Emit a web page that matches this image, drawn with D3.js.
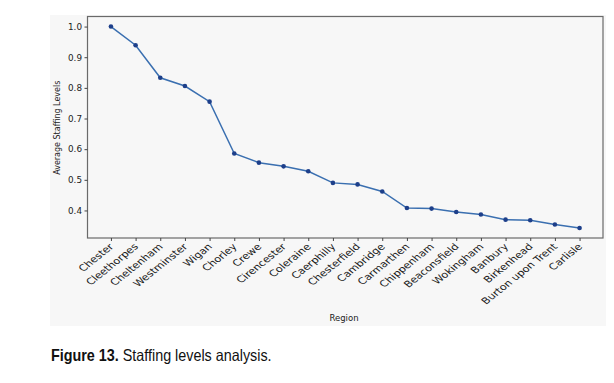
<!DOCTYPE html>
<html><head><meta charset="utf-8">
<script src="https://cdn.jsdelivr.net/npm/d3@7"></script>
<style>
body{margin:0;background:#fff;}
svg{display:block;}
</style></head>
<body>
<svg id="c" width="614" height="383"></svg>
<script>
const regions = ["Chester","Cleethorpes","Cheltenham","Westminster","Wigan","Chorley","Crewe","Cirencester","Coleraine","Caerphilly","Chesterfield","Cambridge","Carmarthen","Chippenham","Beaconsfield","Wokingham","Banbury","Birkenhead","Burton upon Trent","Carlisle"];
const staffing = [1.0,0.939,0.833,0.806,0.755,0.586,0.556,0.544,0.528,0.490,0.485,0.462,0.408,0.406,0.395,0.387,0.370,0.368,0.354,0.343];
const yTicks = [0.4,0.5,0.6,0.7,0.8,0.9,1.0];
const yLabel = "Average Staffing Levels";
const xLabel = "Region";

const svg = d3.select("#c");
const L = 87.5, R = 603, T = 16.5, B = 238;
// figure background
svg.append("rect").attr("x",50).attr("y",15).attr("width",556).attr("height",311).attr("fill","#f7f7f7");

const n = regions.length;
const x = d3.scaleLinear().domain([-0.95, n-1+0.95]).range([L,R]);
const yMin = d3.min(staffing), yMax = d3.max(staffing), pad = (yMax-yMin)*0.05;
const y = d3.scaleLinear().domain([yMin-pad, yMax+pad]).range([B,T]);

svg.append("rect").attr("x",L).attr("y",T).attr("width",R-L).attr("height",B-T)
  .attr("fill","#f7f7f7").attr("stroke","#6a6a6a").attr("stroke-width",1.2);

const fontTick = "DejaVu Sans, sans-serif";
const yAxis = svg.append("g").attr("transform",`translate(${L},0)`)
  .call(d3.axisLeft(y).tickValues(yTicks).tickFormat(d3.format(".1f")).tickSize(3).tickPadding(2.5));
yAxis.select(".domain").remove();
yAxis.selectAll("text").attr("font-family",fontTick).attr("font-size","8.8px").attr("fill","#222");
yAxis.selectAll("line").attr("stroke","#444");

const xAxis = svg.append("g").attr("transform",`translate(0,${B})`)
  .call(d3.axisBottom(x).tickValues(d3.range(n)).tickFormat(i=>regions[i]).tickSize(3).tickPadding(2));
xAxis.select(".domain").remove();
xAxis.selectAll("line").attr("stroke","#444");
xAxis.selectAll(".tick text").attr("font-family",fontTick).attr("font-size","10.3px").attr("fill","#1a1a1a")
  .attr("text-anchor","end").attr("dy","0.35em").attr("y",0).attr("x",0)
  .attr("transform","translate(0,7) scale(1.1,0.88) rotate(-45)");

const line = d3.line().x((d,i)=>x(i)).y(d=>y(d));
svg.append("path").datum(staffing).attr("d",line).attr("fill","none")
  .attr("stroke","#3a6fb0").attr("stroke-width",1.5);
svg.selectAll("circle.pt").data(staffing).enter().append("circle").attr("class","pt")
  .attr("cx",(d,i)=>x(i)).attr("cy",d=>y(d)).attr("r",2.3).attr("fill","#1d3f8a");

svg.append("text").attr("transform",`translate(60,${(T+B)/2+0.5}) rotate(-90)`)
  .attr("text-anchor","middle").attr("font-family",fontTick).attr("font-size","8px").attr("fill","#222").text(yLabel);
svg.append("text").attr("x",344).attr("y",321).attr("text-anchor","middle")
  .attr("font-family",fontTick).attr("font-size","8.5px").attr("fill","#222").text(xLabel);

const cap = svg.append("text").attr("transform","translate(51,361) scale(0.87,1)")
  .attr("font-family","'Liberation Sans Narrow','Arial Narrow','Liberation Sans',Arial,sans-serif").attr("font-size","16.5px").attr("fill","#111");
cap.append("tspan").attr("font-weight","bold").text("Figure 13.");
cap.append("tspan").text(" Staffing levels analysis.");
</script>
</body></html>
